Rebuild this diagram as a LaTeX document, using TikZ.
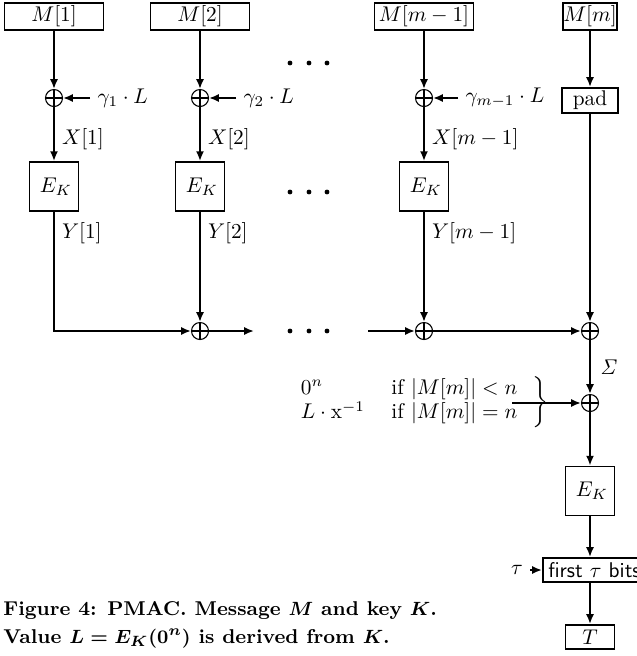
\documentclass[tikz,border=0pt]{standalone}
\usepackage{amsmath}
\usetikzlibrary{arrows.meta,positioning}
\tikzset{
  blk/.style={draw, line width=0.9pt, inner sep=0pt, minimum height=12.7pt},
  ebox/.style={draw, line width=0.9pt, minimum size=23pt, text width=17pt,
    align=right, inner xsep=3pt},
  xorn/.style={circle, draw, line width=0.5pt, minimum size=8pt, inner sep=0pt,
    path picture={\draw[line width=0.5pt]
      (path picture bounding box.north) -- (path picture bounding box.south)
      (path picture bounding box.west) -- (path picture bounding box.east);}},
  arr/.style={line width=0.9pt, -{Latex[length=4.6pt,width=3.8pt]}},
}
\begin{document}
\begin{tikzpicture}[x=0.47pt,y=-0.47pt]
  \useasboundingbox (0,0) rectangle (637,656);
  \def\xa{54}
  \def\xb{200}
  \def\xc{424}
  \def\xd{590}
  % message blocks
  \node[blk, minimum width=46.5pt] (m1) at (\xa,16.5) {$M[1]$};
  \node[blk, minimum width=46.5pt] (m2) at (\xb,16.5) {$M[2]$};
  \node[blk, minimum width=46.5pt] (m3) at (\xc,16.5) {$M[m-1]$};
  \node[blk, minimum width=25.5pt] (m4) at (\xd,16.5) {$M[m]$};
  % offsets
  \node[xorn] (x1) at (\xa,98) {};
  \node[xorn] (x2) at (\xb,98) {};
  \node[xorn] (x3) at (\xc,98) {};
  \node[blk, minimum width=25.9pt, minimum height=11.8pt] (pad) at (\xd,100.5) {pad};
  \node[right] (g1) at (90,98) {$\gamma_1\cdot L$};
  \node[right] (g2) at (236,98) {$\gamma_2\cdot L$};
  \node[right] (g3) at (458,98) {$\gamma_{m-1}\cdot L$};
  \draw[arr] (m1) -- (x1);
  \draw[arr] (m2) -- (x2);
  \draw[arr] (m3) -- (x3);
  \draw[arr] (m4) -- (pad);
  \draw[arr] (g1) -- (x1);
  \draw[arr] (g2) -- (x2);
  \draw[arr] (g3) -- (x3);
  % block cipher calls
  \node[ebox] (e1) at (\xa,186.5) {$E_K$};
  \node[ebox] (e2) at (\xb,186.5) {$E_K$};
  \node[ebox] (e3) at (\xc,186.5) {$E_K$};
  \draw[arr] (x1) -- node[right, pos=0.6] {$X[1]$} (e1);
  \draw[arr] (x2) -- node[right, pos=0.6] {$X[2]$} (e2);
  \draw[arr] (x3) -- node[right, pos=0.6] {$X[m-1]$} (e3);
  % sum of the outputs
  \node[xorn] (s2) at (\xb,331) {};
  \node[xorn] (s3) at (\xc,331) {};
  \node[xorn] (s4) at (\xd,331) {};
  \coordinate (d1) at (254,331);
  \coordinate (d2) at (368,331);
  \draw[arr] (e1) |- node[right, pos=0.09] {$Y[1]$} (s2);
  \draw[arr] (e2) -- node[right, pos=0.19] {$Y[2]$} (s2);
  \draw[arr] (e3) -- node[right, pos=0.19] {$Y[m-1]$} (s3);
  \draw[arr] (pad) -- (s4);
  \draw[arr] (s2) -- (d1);
  \draw[arr] (d2) -- (s3);
  \draw[arr] (s3) -- (s4);
  \foreach \y in {63,192,331}
    \foreach \x in {290,309,327}
      \fill (\x,\y) circle (1.15pt);
  % final block
  \node[xorn] (s5) at (\xd,403) {};
  \draw[arr] (s4) -- node[right, xshift=1pt] {$\mathit{\Sigma}$} (s5);
  \node[anchor=west, inner sep=0pt] (cnd) at (298,402)
    {$\renewcommand{\arraystretch}{0.92}\left.\begin{array}{@{}l@{\hspace{12.5pt}}l@{}}
      0^n & \mbox{if } |M[m]|<n\\
      L\cdot\mathrm{x}^{-1} & \mbox{if } |M[m]|=n
    \end{array}\hspace{7pt}\right\}$};
  \coordinate (cin) at (512,403);
  \draw[arr] (cin) -- (s5);
  \node[ebox] (ef) at (\xd,491) {$E_K$};
  \draw[arr] (s5) -- (ef);
  \node[blk, anchor=west, font=\sffamily, inner xsep=2.5pt, minimum height=11.3pt]
    (ft) at (542,570) {first $\tau$ bits};
  \node (tau) at (517,570) {$\tau$};
  \draw[arr] (ef) -- (ef |- ft.north);
  \draw[arr] (tau) -- (ft);
  \node[blk, minimum width=23pt, minimum height=11.3pt] (tb) at (\xd,637) {$T$};
  \draw[arr] (ft.south -| tb) -- (tb);
  % caption
  \node[anchor=north west, align=left, inner sep=0pt,
    font=\fontsize{9.4}{13.2}\selectfont\bfseries\boldmath]
    (cap) at (3,601) {Figure 4: PMAC. Message $M$ and key $K$.\\
    Value $L=E_K(0^n)$ is derived from $K$.};
\end{tikzpicture}
\end{document}
